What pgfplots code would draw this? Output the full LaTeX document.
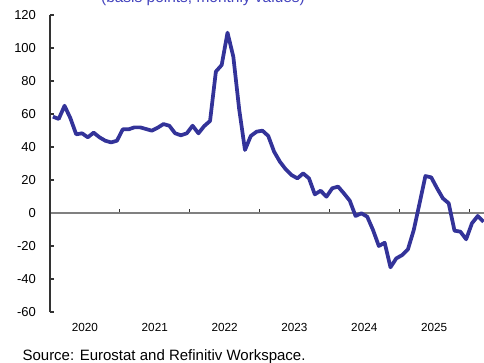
\documentclass[border=0pt]{standalone}
\usepackage{pgfplots}
\pgfplotsset{compat=1.18}
\usepackage{fontspec}
\setmainfont{Liberation Sans}
\definecolor{lineblue}{RGB}{51,51,153}
\definecolor{titleblue}{RGB}{68,68,190}
\begin{document}
\begin{tikzpicture}[x=0.75pt,y=0.75pt]
\useasboundingbox (-50,-50) rectangle (434,312);
\begin{axis}[
  at={(0,0)}, anchor=south west,
  scale only axis, width=325.5pt, height=222.75pt,
  xmin=-0.5, xmax=74.07, ymin=-60, ymax=120,
  axis y line=left, axis x line=middle,
  hide obscured x ticks=false, hide obscured y ticks=false,
  y axis line style={-, draw=black!80, line width=0.8pt},
  x axis line style={-, draw=black!50, line width=1.1pt},
  ytick={-60,-40,...,120},
  ytick align=inside, xtick align=inside,
  ytick style={draw=black!80, line width=0.8pt},
  xtick style={draw=black!80, line width=0.8pt},
  major tick length=3pt,
  xtick={11.5,23.5,35.5,47.5,59.5,71.5},
  xticklabels={},
  extra x ticks={5.5,17.5,29.5,41.5,53.5,65.5},
  extra x tick labels={2020,2021,2022,2023,2024,2025},
  extra x tick style={major tick length=0pt, xticklabel style={anchor=center, yshift=-85.5pt}},
  /pgf/number format/assume math mode=true,
  yticklabel style={font=\fontsize{9.75}{11}\selectfont, xshift=-7pt},
  xticklabel style={font=\fontsize{8.8}{10}\selectfont},
  clip=true,
]
\addplot[color=lineblue, line width=2.8pt, line join=round] coordinates {
(0,58.4) (1,57) (2,65) (3,57.5) (4,47.7) (5,48.3) (6,45.9) (7,48.7) (8,45.9) (9,43.8)
(10,42.8) (11,43.8) (12,50.7) (13,50.7) (14,51.9) (15,51.9) (16,50.9) (17,49.9) (18,51.7) (19,53.9)
(20,52.9) (21,48.3) (22,47.1) (23,48.3) (24,52.9) (25,48.3) (26,52.7) (27,55.8) (28,85.7) (29,89.7)
(30,109.3) (31,94.7) (32,63) (33,38.2) (34,46.7) (35,49.3) (36,49.9) (37,46.7) (38,37.2) (39,31.1)
(40,26.5) (41,23) (42,21) (43,24) (44,21) (45,11.3) (46,13.5) (47,9.9) (48,15) (49,16)
(50,11.9) (51,7.5) (52,-1.8) (53,-0.2) (54,-2.2) (55,-10.3) (56,-20) (57,-18) (58,-32.9) (59,-27.5)
(60,-25.5) (61,-22) (62,-10.3) (63,5.9) (64,22.4) (65,21.6) (66,15) (67,8.9) (68,5.9) (69,-10.7)
(70,-11.3) (71,-15.9) (72,-6.2) (73,-1.8) (74,-5.3)
};
\end{axis}
\node[anchor=base, text=titleblue, font=\fontsize{11.6}{13}\selectfont, inner sep=0pt] at (153,309.5) {(basis points, monthly values)};
\node[anchor=base west, font=\fontsize{11.25}{13}\selectfont, inner sep=0pt] at (-27.7,-48) {Source: Eurostat and Refinitiv Workspace.};
\end{tikzpicture}
\end{document}
